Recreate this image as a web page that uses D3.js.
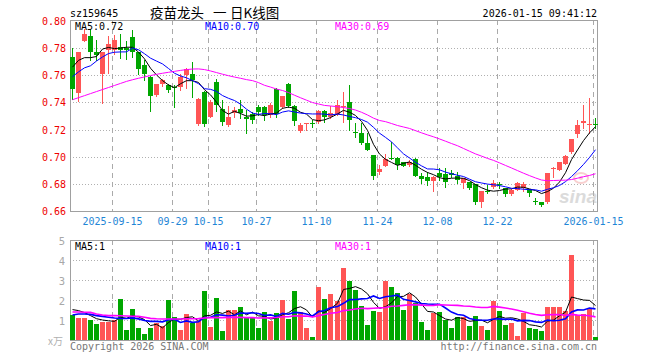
<!DOCTYPE html>
<html><head><meta charset="utf-8">
<script src="https://cdn.jsdelivr.net/npm/d3@7/dist/d3.min.js"></script>
<style>
body{margin:0;background:#fff;}
svg{display:block;}
text{font-family:"DejaVu Sans Mono",monospace;}
</style>
</head><body>
<svg id="chart" width="660" height="360"></svg>
<script>
// ---------------- data ----------------
const dates = ["2025-09-04","2025-09-05","2025-09-08","2025-09-09","2025-09-10","2025-09-11","2025-09-12","2025-09-15","2025-09-16","2025-09-17","2025-09-18","2025-09-19","2025-09-22","2025-09-23","2025-09-24","2025-09-25","2025-09-26","2025-09-29","2025-09-30",
"2025-10-09","2025-10-10","2025-10-13","2025-10-14","2025-10-15","2025-10-16","2025-10-17","2025-10-20","2025-10-21","2025-10-22","2025-10-23","2025-10-24","2025-10-27","2025-10-28","2025-10-29","2025-10-30","2025-10-31",
"2025-11-03","2025-11-04","2025-11-05","2025-11-06","2025-11-07","2025-11-10","2025-11-11","2025-11-12","2025-11-13","2025-11-14","2025-11-17","2025-11-18","2025-11-19","2025-11-20","2025-11-21","2025-11-24","2025-11-25","2025-11-26","2025-11-27","2025-11-28",
"2025-12-01","2025-12-02","2025-12-03","2025-12-04","2025-12-05","2025-12-08","2025-12-09","2025-12-10","2025-12-11","2025-12-12","2025-12-15","2025-12-16","2025-12-17","2025-12-18","2025-12-19","2025-12-22","2025-12-23","2025-12-24","2025-12-25","2025-12-26","2025-12-29","2025-12-30","2025-12-31",
"2026-01-05","2026-01-06","2026-01-07","2026-01-08","2026-01-09","2026-01-12","2026-01-13","2026-01-14","2026-01-15"];

const openP = [0.7734,0.7466,0.7851,0.7893,0.7771,0.7612,0.7788,0.7788,0.7807,0.7802,0.7880,0.7771,0.7673,0.7588,0.7453,0.7538,0.7527,0.7517,0.7515,0.7600,
0.7612,0.7241,0.7480,0.7296,0.7550,0.7350,0.7233,0.7322,0.7350,0.7291,0.7315,0.7369,0.7369,0.7308,0.7497,0.7370,0.7536,0.7377,0.7193,0.7245,
0.7247,0.7259,0.7337,0.7296,0.7310,0.7365,0.7400,0.7182,0.7172,0.7099,0.7013,0.6891,0.6935,0.6990,0.6994,0.6959,0.6940,0.6984,0.6861,0.6854,
0.6822,0.6879,0.6871,0.6883,0.6859,0.6805,0.6810,0.6797,0.6665,0.6748,0.6775,0.6800,0.6768,0.6726,0.6756,0.6768,0.6760,0.6675,0.6665,0.6665,
0.6910,0.6903,0.6946,0.7037,0.7165,0.7245,0.7238,0.7243];
const highP = [0.7802,0.7775,0.7942,0.7942,0.7861,0.7775,0.7893,0.7900,0.7905,0.7856,0.7934,0.7775,0.7710,0.7592,0.7538,0.7570,0.7539,0.7527,0.7612,0.7656,
0.7698,0.7429,0.7482,0.7418,0.7570,0.7416,0.7374,0.7369,0.7418,0.7345,0.7333,0.7382,0.7375,0.7394,0.7504,0.7450,0.7545,0.7380,0.7247,0.7250,
0.7271,0.7345,0.7345,0.7376,0.7417,0.7477,0.7526,0.7246,0.7246,0.7172,0.7015,0.6940,0.7021,0.7110,0.6999,0.6960,0.6976,0.6990,0.6879,0.6891,
0.6856,0.6915,0.6915,0.6903,0.6891,0.6846,0.6812,0.6799,0.6750,0.6792,0.6829,0.6812,0.6770,0.6760,0.6812,0.6812,0.6762,0.6694,0.6668,0.6880,
0.6922,0.6962,0.7015,0.7130,0.7270,0.7380,0.7429,0.7282];
const lowP = [0.7422,0.7412,0.7851,0.7710,0.7710,0.7393,0.7617,0.7759,0.7729,0.7722,0.7734,0.7612,0.7563,0.7339,0.7446,0.7520,0.7478,0.7363,0.7490,0.7510,
0.7441,0.7234,0.7229,0.7291,0.7340,0.7232,0.7229,0.7296,0.7283,0.7173,0.7252,0.7308,0.7271,0.7296,0.7296,0.7360,0.7365,0.7234,0.7185,0.7198,
0.7222,0.7247,0.7259,0.7283,0.7305,0.7257,0.7195,0.7148,0.7097,0.7050,0.6837,0.6874,0.6928,0.6980,0.6910,0.6928,0.6928,0.6855,0.6805,0.6793,
0.6744,0.6830,0.6780,0.6854,0.6805,0.6768,0.6763,0.6650,0.6633,0.6731,0.6768,0.6773,0.6714,0.6719,0.6753,0.6748,0.6707,0.6650,0.6638,0.6658,
0.6854,0.6903,0.6946,0.7025,0.7148,0.7209,0.7172,0.7209];
const closeP = [0.7497,0.7768,0.7905,0.7771,0.7751,0.7771,0.7827,0.7863,0.7790,0.7783,0.7771,0.7649,0.7612,0.7446,0.7534,0.7563,0.7490,0.7512,0.7588,0.7649,
0.7563,0.7424,0.7242,0.7401,0.7380,0.7257,0.7289,0.7347,0.7320,0.7281,0.7271,0.7332,0.7308,0.7382,0.7315,0.7446,0.7377,0.7266,0.7234,0.7247,
0.7242,0.7337,0.7296,0.7320,0.7380,0.7375,0.7268,0.7178,0.7099,0.7050,0.6861,0.6910,0.6984,0.6985,0.6940,0.6935,0.6964,0.6861,0.6837,0.6822,
0.6854,0.6854,0.6812,0.6866,0.6830,0.6842,0.6768,0.6670,0.6748,0.6739,0.6805,0.6792,0.6724,0.6756,0.6805,0.6797,0.6731,0.6665,0.6645,0.6878,
0.6920,0.6959,0.7008,0.7128,0.7233,0.7265,0.7243,0.7238];
const volume = [1.25,1.12,1.12,1.02,0.82,0.92,0.92,0.98,2.07,0.52,1.57,0.62,0.32,0.58,0.83,0.68,1.98,1.17,0.52,1.28,
0.85,0.95,2.43,0.67,2.12,0.47,1.52,1.52,1.67,1.12,1.15,0.58,1.42,0.97,1.37,1.98,1.07,2.47,1.42,0.58,
0.17,2.67,2.07,2.32,1.95,3.62,2.93,2.52,1.72,0.77,1.47,1.42,2.93,2.67,2.37,1.52,2.32,1.87,0.92,0.52,
1.37,1.42,1.02,0.62,1.17,1.13,0.72,1.22,0.72,0.52,1.97,1.47,0.77,0.83,0.22,1.37,0.62,0.57,0.47,1.67,
1.67,1.67,1.47,4.27,1.27,1.32,1.57,0.17];

const priceMA5Lead = [0.766,0.771,0.773,0.773];
const priceMA10Lead = [0.759,0.7625,0.7655,0.767,0.7705,0.7735,0.776,0.777,0.7772];
const priceMA30Lead = [0.742,0.7435,0.745,0.7465,0.748,0.7495,0.751,0.7525,0.754,0.7555,0.7567,0.7578,0.7588,0.7598,0.7607,0.7615,0.7622,0.7629,0.7636,0.7642,
0.7646,0.7647,0.7642,0.7632,0.762,0.7608,0.7597,0.7587,0.7578];
const volMA5Lead = [1.52,1.47,1.37,1.22];
const volMA10Lead = [1.25,1.30,1.30,1.28,1.22,1.18,1.14,1.10,1.08];
const volMA30Lead = [1.40,1.40,1.39,1.38,1.30,1.25,1.22,1.22,1.21,1.20,1.19,1.18,1.14,1.08,1.06,1.05,1.05,1.05,1.05,1.06,
1.06,1.07,1.10,1.12,1.12,1.12,1.13,1.13,1.13];

const priceTicks = [0.66,0.68,0.70,0.72,0.74,0.76,0.78,0.80];
const volTicks = [1,2,3,4,5];
const dateTicks = ["2025-09-15","2025-09-29","2025-10-15","2025-10-27","2025-11-10","2025-11-24","2025-12-08","2025-12-22","2026-01-15"];
const dateTickLabels = ["2025-09-15","09-29","10-15","10-27","11-10","11-24","12-08","12-22","2026-01-15"];
const titleParts = ["疫苗龙头","一","日K线图"];
const legendPrice = ["MA5:0.72","MA10:0.70","MA30:0.69"];
const legendVol = ["MA5:1","MA10:1","MA30:1"];

// ---------------- helpers ----------------
function movingAvg(arr, n, lead){
  return arr.map((v,i)=> i < n-1 ? lead[i] : d3.mean(arr.slice(i-n+1,i+1)));
}
const pMA = [movingAvg(closeP,5,priceMA5Lead), movingAvg(closeP,10,priceMA10Lead), movingAvg(closeP,30,priceMA30Lead)];
const vMA = [movingAvg(volume,5,volMA5Lead), movingAvg(volume,10,volMA10Lead), movingAvg(volume,30,volMA30Lead)];

const RED = "#ff5555", GREEN = "#00a600";
const maColors = ["#000000","#0000ff","#ff00ff"];
const L = 70, R = 597;
const svg = d3.select("#chart");

const x = d3.scaleBand().domain(dates).range([L, L + dates.length*6]).paddingInner(1/6).paddingOuter(0).align(0);
const bw = 5;
const xs = d => Math.round(x(d));
const yP = d3.scaleLinear().domain([0.66,0.80]).range([211,21]);
const yV = d3.scaleLinear().domain([0,5]).range([340,240]);
const crisp = v => Math.round(v) + 0.5;

// ---------- grids ----------
function grid(top, bottom, yScale, ticks){
  const g = svg.append("g");
  g.selectAll("line.h").data(ticks).join("line")
    .attr("x1", L).attr("x2", R)
    .attr("y1", d=>crisp(yScale(d))).attr("y2", d=>crisp(yScale(d)))
    .attr("stroke","#b0b0b0").attr("stroke-dasharray","1,2");
  g.selectAll("line.v").data(dateTicks).join("line")
    .attr("x1", d=>xs(d)+0.5).attr("x2", d=>xs(d)+0.5)
    .attr("y1", top).attr("y2", bottom)
    .attr("stroke","#aaaaaa").attr("stroke-dasharray","5,4");
  g.append("rect").attr("x", L+0.5).attr("y", top+0.5).attr("width", R-L).attr("height", bottom-top)
    .attr("fill","none").attr("stroke","#a0a0a0");
}
grid(20, 211, yP, priceTicks.slice(1,7));
grid(240, 340, yV, volTicks.slice(0,4));

// ---------- watermark ----------
const wm = svg.append("g").attr("opacity",0.5);
wm.append("ellipse").attr("cx",581).attr("cy",178).attr("rx",7).attr("ry",5).attr("fill","none").attr("stroke","#f3a0a0").attr("stroke-width",2);
wm.append("circle").attr("cx",581).attr("cy",178).attr("r",2).attr("fill","#f3a0a0");
wm.append("text").attr("x",597).attr("y",203).attr("text-anchor","end")
  .style("font-family","'Liberation Sans',Arial,sans-serif").style("font-size","19px").style("font-weight","bold").style("font-style","italic")
  .attr("fill","#b8b8b8").text("sina");

// ---------- candles ----------
const idx = d3.range(dates.length);
const up = i => closeP[i] >= openP[i];
const cg = svg.append("g");
cg.selectAll("line.wick").data(idx).join("line")
  .attr("x1", i=>xs(dates[i])+2.5).attr("x2", i=>xs(dates[i])+2.5)
  .attr("y1", i=>Math.round(yP(highP[i]))).attr("y2", i=>Math.round(yP(lowP[i]))+1)
  .attr("stroke", i=>up(i)?RED:GREEN).attr("stroke-width",1);
cg.selectAll("rect.body").data(idx).join("rect")
  .attr("x", i=>xs(dates[i]))
  .attr("y", i=>Math.round(yP(Math.max(openP[i],closeP[i]))))
  .attr("width", bw)
  .attr("height", i=>Math.max(1, Math.round(yP(Math.min(openP[i],closeP[i]))) - Math.round(yP(Math.max(openP[i],closeP[i])))))
  .attr("fill", i=>up(i)?RED:GREEN);

// ---------- MA lines (price) ----------
const lineP = d3.line().x((v,i)=>xs(dates[i])+2.5).y(v=>yP(v));
pMA.forEach((arr,k)=>{
  svg.append("path").attr("d", lineP(arr)).attr("fill","none").attr("stroke",maColors[k]).attr("stroke-width",1);
});

// ---------- volume bars ----------
svg.append("g").selectAll("rect").data(idx).join("rect")
  .attr("x", i=>xs(dates[i]))
  .attr("y", i=>Math.round(yV(volume[i])))
  .attr("width", bw)
  .attr("height", i=>340 - Math.round(yV(volume[i])))
  .attr("fill", i=>up(i)?RED:GREEN);
const lineV = d3.line().x((v,i)=>xs(dates[i])+2.5).y(v=>yV(v));
vMA.forEach((arr,k)=>{
  svg.append("path").attr("d", lineV(arr)).attr("fill","none").attr("stroke",maColors[k]).attr("stroke-width",k===0?1:1.6);
});

// ---------- texts ----------
const T = (x0,y0,s,opt={})=>{
  const t = svg.append("text").attr("x",x0).attr("y",y0).text(s)
    .style("font-size",(opt.size||10)+"px").attr("fill",opt.fill||"#000");
  if(opt.anchor) t.attr("text-anchor",opt.anchor);
  if(opt.family) t.style("font-family",opt.family);
  return t;
};
T(70,16.5,"sz159645",{size:10});
const cjk = "'Noto Sans CJK SC',sans-serif";
T(150,17.5,titleParts[0],{size:13.5,family:cjk});
T(213,17.5,titleParts[1],{size:13.5,family:cjk});
T(230,17.5,titleParts[2],{size:13.5,family:cjk});
T(597,16.5,"2026-01-15 09:41:12",{size:10,anchor:"end"});

[75,205,335].forEach((xx,k)=>{
  T(xx,30,legendPrice[k],{size:10,fill:maColors[k]});
  T(xx,250,legendVol[k],{size:10,fill:maColors[k]});
});

svg.append("g").selectAll("text").data(priceTicks).join("text")
  .attr("x",66).attr("y",d=>Math.round(yP(d))+4).attr("text-anchor","end")
  .style("font-size","10px").attr("fill","#ee0000").text(d=>d.toFixed(2));
svg.append("g").selectAll("text").data(volTicks).join("text")
  .attr("x",65).attr("y",d=>Math.round(yV(d))+4.5).attr("text-anchor","end")
  .style("font-size","10.5px").attr("fill","#a8a8a8").text(d=>String(d));
svg.append("g").selectAll("text").data(dateTicks).join("text")
  .attr("x",(d)=>xs(d)+0.5).attr("y",224.5).attr("text-anchor","middle")
  .style("font-size","10px").attr("fill","#1f86d6").text((d,i)=>dateTickLabels[i]);

T(48,345,"x万",{size:10,fill:"#b0b0b0",family:cjk});
T(70,349.5,"Copyright 2026 SINA.COM",{size:10,fill:"#777"});
T(597,349.5,"http://finance.sina.com.cn",{size:10,fill:"#777",anchor:"end"});
</script>
</body></html>
